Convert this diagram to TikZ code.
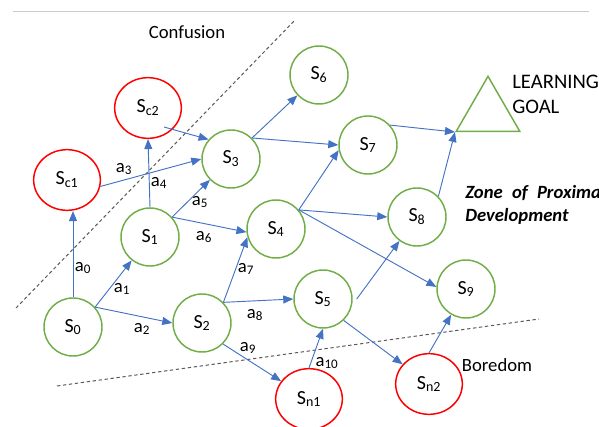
\documentclass[tikz,border=0pt]{standalone}
\usepackage{fontspec}
\setmainfont{Carlito}
\newfontfamily\zpdfont{Carlito}[WordSpace=2.2]
\usetikzlibrary{arrows.meta,shapes.geometric,calc}
\definecolor{okgreen}{RGB}{112,173,71}
\definecolor{badred}{RGB}{255,0,0}
\definecolor{linkblue}{RGB}{68,114,196}

\begin{document}
\begin{tikzpicture}[x=0.75pt,y=-0.75pt,
  state/.style={circle,draw=okgreen,line width=1.1pt,minimum size=43.5pt,inner sep=0pt,font=\fontsize{15}{18}\selectfont},
  offstate/.style={ellipse,draw=badred,line width=1.1pt,minimum width=50pt,minimum height=45.5pt,inner sep=0pt,font=\fontsize{15}{18}\selectfont},
  target/.style={regular polygon,regular polygon sides=3,draw=okgreen,line width=1.1pt,minimum size=55pt,inner sep=0pt},
  flow/.style={draw=linkblue,line width=0.7pt,-{Triangle[length=7.5pt,width=6pt]}},
  act/.style={font=\fontsize{14}{16}\selectfont,inner sep=0pt},
  border/.style={draw=black!65,line width=0.75pt,dash pattern=on 2.5pt off 2pt}]
\clip (0,0) rectangle (599,427);
\draw[black!20,line width=0.75pt] (13,12) -- (589,12);
\draw[border] (16,308) -- (295,20);
\draw[border] (57,386) -- (539,319);

\foreach \n/\x/\y in {0/73/327,1/150/237,2/202/323,3/231/159,4/276/229,5/323/299,6/319/75,7/368/145,8/417/217,9/466/289}
  \node[state] (s\n) at (\x,\y) {S\textsubscript{\n}};
\foreach \n/\x/\y in {c1/67/180,c2/148/108,n1/309/399,n2/429/384}
  \node[offstate] (s\n) at (\x,\y) {S\textsubscript{\n}};
\node[target] (goal) at (488,113) {};

\draw[flow] (s0.north) -- (s0.north |- sc1.south);
\draw[flow] (s0.42) -- (s1);
\draw[flow] (s0.42) -- (s2.west);
\draw[flow] (s1.north) -- (sc2.south);
\draw[flow] (sc1.-11) -- (s3.west);
\draw[flow] ($(sc2)+(16,19)$) -- (s3.139);
\draw[flow] (s1.42) -- (s3);
\draw[flow] (s1.42) -- (s4.186);
\draw[flow] (s2.44) -- (s4.196);
\draw[flow] (s2.44) -- (s5.west);
\draw[flow] (s2.-45) -- (sn1);
\draw[flow] (sn1.north) -- (s5.south);
\draw[flow] (s3.45) -- (s6);
\draw[flow] (s3.45) -- (s7.west);
\draw[flow] (s4.40) -- (s7.190);
\draw[flow] (s4.40) -- (s8.west);
\draw[flow] (s4.40) -- (s9.176);
\draw[flow] ([xshift=3pt]s5.east) -- (s8);
\draw[flow] (s5.-46) -- (sn2);
\draw[flow] (sn2.north) -- (s9);
\draw[flow] (s7.42) -- (goal.corner 2);
\draw[flow] (s8.44) -- (goal.corner 2);

\foreach \i/\x/\y in {0/83/268,1/122/289,2/142/329,3/124/169,4/159/183,5/200/202,6/204/237,7/246/269,8/255/315,9/248/348,10/327/363}
  \node[act] (a\i) at (\x,\y) {a\textsubscript{\i}};

\node[act] (confusion) at (187,32) {Confusion};
\node[act] (boredom) at (497,365) {Boredom};
\node[act,anchor=west,align=left,font=\fontsize{15.5}{18.75}\selectfont] (goaltext) at (512,94) {LEARNING\\GOAL};
\node[act,anchor=west,align=left,font=\zpdfont\fontsize{14}{17.25}\selectfont\bfseries\itshape] (zpd) at (465,205) {Zone of Proximal\\Development};
\end{tikzpicture}
\end{document}
